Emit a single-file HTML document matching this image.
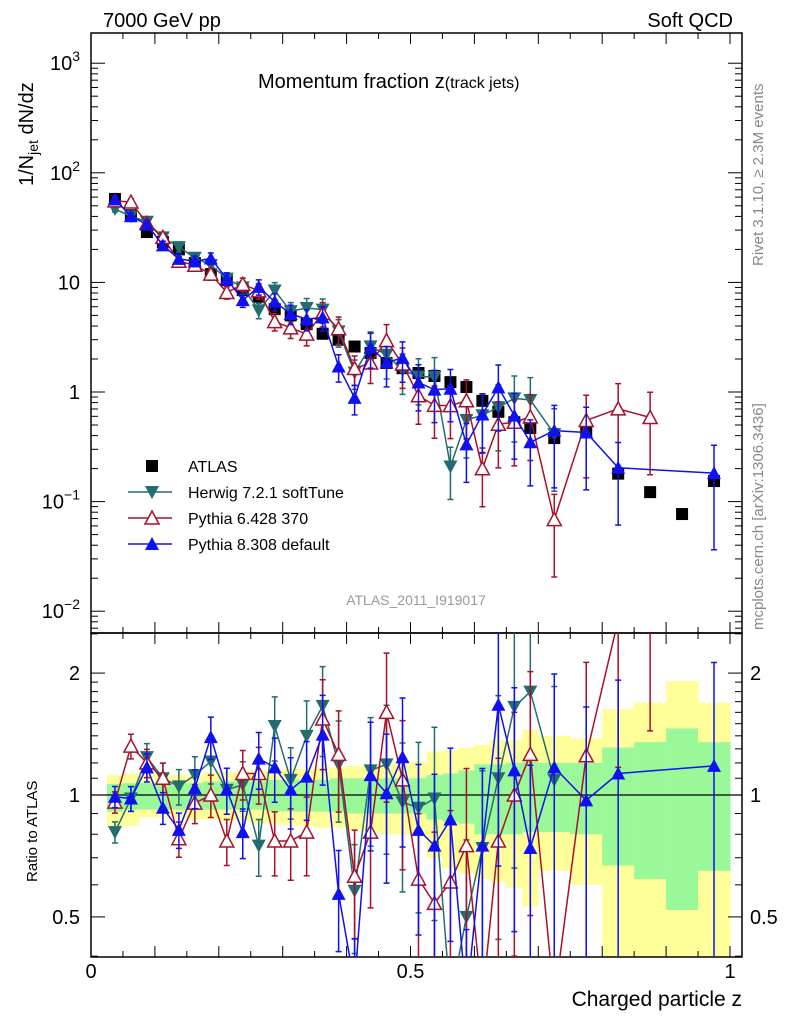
<!DOCTYPE html>
<html><head><meta charset="utf-8"><style>
html,body{margin:0;padding:0;background:#fff;width:786px;height:1024px;overflow:hidden;}
svg{display:block;font-family:"Liberation Sans",sans-serif;overflow:hidden;}
</style></head><body>
<svg id="chart" width="786" height="1024" viewBox="0 0 786 1024" xmlns="http://www.w3.org/2000/svg">
<defs>
<clipPath id="clipTop"><rect x="91" y="33" width="651" height="600"/></clipPath>
<clipPath id="clipRat"><rect x="91" y="633" width="651" height="324"/></clipPath>
</defs>
<text x="103" y="27" font-size="20">7000 GeV pp</text>
<text x="733" y="27" font-size="20" text-anchor="end">Soft QCD</text>
<text x="258" y="88" font-size="20">Momentum fraction z<tspan font-size="16">(track jets)</tspan></text>
<text transform="translate(33,186) rotate(-90)" font-size="20">1/N<tspan font-size="14" dy="5">jet</tspan><tspan dy="-5"> dN/dz</tspan></text>
<text transform="translate(37,882) rotate(-90)" font-size="15">Ratio to ATLAS</text>
<text x="742" y="1006" font-size="21" text-anchor="end">Charged particle z</text>
<text transform="translate(763,266) rotate(-90)" font-size="15" fill="#888">Rivet 3.1.10, ≥ 2.3M events</text>
<text transform="translate(763,630) rotate(-90)" font-size="15" fill="#888">mcplots.cern.ch [arXiv:1306.3436]</text>
<text x="416" y="605" font-size="14" fill="#999" text-anchor="middle">ATLAS_2011_I919017</text>
<g id="bands" clip-path="url(#clipRat)"></g>
<g id="axes"></g>
<g id="series-top" clip-path="url(#clipTop)"></g>
<g id="series-rat" clip-path="url(#clipRat)"></g>
<g id="legend"></g>
</svg>
<script>
const zCenters = [0.0375,0.0625,0.0875,0.1125,0.1375,0.1625,0.1875,0.2125,0.2375,0.2625,0.2875,0.3125,0.3375,0.3625,0.3875,0.4125,0.4375,0.4625,0.4875,0.5125,0.5375,0.5625,0.5875,0.6125,0.6375,0.6625,0.6875,0.725,0.775,0.825,0.875,0.925,0.975];
const binHalfWidths = [0.0125,0.0125,0.0125,0.0125,0.0125,0.0125,0.0125,0.0125,0.0125,0.0125,0.0125,0.0125,0.0125,0.0125,0.0125,0.0125,0.0125,0.0125,0.0125,0.0125,0.0125,0.0125,0.0125,0.0125,0.0125,0.0125,0.0125,0.025,0.025,0.025,0.025,0.025,0.025];
const atlasValues = [57.7,41,28.8,23.4,20,15,11.9,10.5,8.5,7.4,5.7,5.0,4.17,3.4,3.0,2.6,2.27,1.84,1.65,1.49,1.40,1.23,1.11,0.83,0.66,0.53,0.47,0.38,0.44,0.18,0.122,0.077,0.154];
const herwigRatio = [0.81,0.98,1.24,1.10,1.05,1.12,1.21,1.03,1.06,0.75,1.48,1.09,1.40,1.66,1.19,0.58,1.15,1.19,0.96,0.93,0.98,0.17,0.50,0.74,1.10,1.65,1.80,1.09,null,null,null,null,null];
const pythia6Ratio = [0.96,1.32,1.20,1.10,0.78,0.955,1.00,0.77,1.13,1.13,0.77,0.77,0.81,1.54,1.26,0.63,0.81,1.60,1.09,0.62,0.54,0.61,0.75,0.24,0.77,1.00,1.26,0.18,1.25,3.9,4.8,null,null];
const pythia8Ratio = [0.99,0.98,1.17,0.93,0.82,1.04,1.39,1.03,0.81,1.23,1.17,1.03,1.11,1.41,0.57,0.34,1.12,1.01,1.24,0.82,0.75,0.87,0.30,0.75,1.67,1.15,0.74,1.17,0.97,1.13,null,null,1.18];
const mcRelErr = [0.06,0.07,0.08,0.09,0.10,0.11,0.12,0.13,0.14,0.16,0.18,0.2,0.22,0.25,0.28,0.3,0.35,0.4,0.4,0.45,0.5,0.5,0.55,0.55,0.6,0.6,0.6,0.7,0.7,0.7,0.7,0.7,0.8];
const yellowHi = [1.12,1.13,1.13,1.11,1.12,1.12,1.14,1.14,1.14,1.15,1.15,1.16,1.16,1.17,1.17,1.18,1.18,1.19,1.20,1.21,1.28,1.29,1.31,1.33,1.37,1.37,1.45,1.40,1.38,1.63,1.69,1.91,1.69];
const yellowLo = [0.83,0.84,0.88,0.88,0.88,0.87,0.87,0.86,0.86,0.85,0.85,0.84,0.84,0.83,0.83,0.82,0.81,0.80,0.80,0.79,0.70,0.66,0.64,0.62,0.61,0.59,0.53,0.65,0.60,0.4,0.4,0.4,0.4];
const greenHi = [1.065,1.07,1.07,1.07,1.07,1.07,1.08,1.08,1.08,1.08,1.09,1.09,1.09,1.09,1.10,1.10,1.10,1.10,1.10,1.10,1.12,1.13,1.15,1.19,1.19,1.20,1.21,1.20,1.20,1.31,1.35,1.46,1.35];
const greenLo = [0.91,0.92,0.92,0.92,0.92,0.92,0.92,0.92,0.92,0.92,0.91,0.91,0.91,0.91,0.91,0.90,0.90,0.90,0.90,0.90,0.87,0.86,0.85,0.80,0.80,0.80,0.81,0.81,0.80,0.67,0.62,0.52,0.65];
const topTickExps = [-2,-1,0,1,2,3];
const ratioTickLabels = ["0.5","1","2"];
const xTickLabels = ["0","0.5","1"];

const NS="http://www.w3.org/2000/svg";
const X=z=>91+z*639;
const YT=v=>Math.max(20,Math.min(700,392-109.6*Math.log10(v)));
const YR=r=>Math.max(620,Math.min(1000,795-405*Math.log10(r)));
function mk(tag,attrs,parent){const e=document.createElementNS(NS,tag);for(const k in attrs)e.setAttribute(k,attrs[k]);parent.appendChild(e);return e;}
const axes=document.getElementById('axes');
const bands=document.getElementById('bands');
const sTop=document.getElementById('series-top');
const sRat=document.getElementById('series-rat');
const leg=document.getElementById('legend');

zCenters.forEach((z,i)=>{
  const x0=X(z-binHalfWidths[i]), x1=X(z+binHalfWidths[i]);
  const y=mk('rect',{x:x0,y:YR(yellowHi[i]),width:x1-x0+0.5,height:Math.min(957,YR(yellowLo[i]))-YR(yellowHi[i]),fill:'#ffff99'},bands);
  
  
  const g=mk('rect',{x:x0,y:YR(greenHi[i]),width:x1-x0+0.5,height:YR(greenLo[i])-YR(greenHi[i]),fill:'#99f999'},bands);
  
  
});

const f1=mk('rect',{x:91,y:33,width:651,height:600,fill:'none',stroke:'#000','stroke-width':1.5},axes);


const f2=mk('rect',{x:91,y:633,width:651,height:324,fill:'none',stroke:'#000','stroke-width':1.5},axes);


const one=mk('line',{x1:91,x2:742,y1:YR(1),y2:YR(1),stroke:'#000','stroke-width':1.2},axes);



for(let k=0;k<=20;k++){
  const z=k*0.05, x=X(z), len=(k%2===0)?11:6;
  [[633,-1],[957,-1],[33,1],[633,1]].forEach(([yb,d])=>{
    mk('line',{x1:x,x2:x,y1:yb,y2:yb+d*len,stroke:'#000','stroke-width':1},axes);
  });
}
xTickLabels.forEach(t=>{
  const e=mk('text',{x:X(parseFloat(t)),y:978,'font-size':20,'text-anchor':'middle'},axes);
  e.textContent=t;
  
  
});

topTickExps.forEach(p=>{
  const y=YT(Math.pow(10,p));
  mk('line',{x1:91,x2:105,y1:y,y2:y,stroke:'#000'},axes);
  mk('line',{x1:742,x2:728,y1:y,y2:y,stroke:'#000'},axes);
  const e=mk('text',{x:80,y:y+7,'font-size':20,'text-anchor':'end'},axes);
  
  
  if(p===0)e.textContent='1';
  else if(p===1)e.textContent='10';
  else{e.textContent='10';const s=mk('tspan',{dy:-9,'font-size':14},e);s.textContent=(p<0?'\u2212':'')+Math.abs(p);}
  for(let m=2;m<=9;m++){
    const ym=YT(m*Math.pow(10,p));
    if(ym<34)continue;
    mk('line',{x1:91,x2:98,y1:ym,y2:ym,stroke:'#000'},axes);
    mk('line',{x1:742,x2:735,y1:ym,y2:ym,stroke:'#000'},axes);
  }
});
[7,8,9].forEach(m=>{const ym=YT(m/1000);mk('line',{x1:91,x2:98,y1:ym,y2:ym,stroke:'#000'},axes);mk('line',{x1:742,x2:735,y1:ym,y2:ym,stroke:'#000'},axes);});

[0.4,0.5,0.6,0.7,0.8,0.9,1,1.1,1.2,1.3,1.4,1.5,1.6,1.7,1.8,1.9,2,2.5].forEach(r=>{
  const y=YR(r), len=(r===0.5||r===1||r===2)?14:7;
  mk('line',{x1:91,x2:91+len,y1:y,y2:y,stroke:'#000'},axes);
  mk('line',{x1:742,x2:742-len,y1:y,y2:y,stroke:'#000'},axes);
});
ratioTickLabels.forEach(t=>{
  const y=YR(parseFloat(t));
  const a=mk('text',{x:80,y:y+7,'font-size':20,'text-anchor':'end'},axes);a.textContent=t;
  
  
  const b=mk('text',{x:750,y:y+7,'font-size':20},axes);b.textContent=t;
  
  
});

function marker(type,x,y,color,parent){
  let e;
  if(type==='square') e=mk('rect',{x:x-6,y:y-6,width:12,height:12,fill:'#000'},parent);
  else if(type==='down') e=mk('polygon',{points:`${x-7},${y-6} ${x+7},${y-6} ${x},${y+7}`,fill:color},parent);
  else if(type==='up') e=mk('polygon',{points:`${x-7},${y+6} ${x+7},${y+6} ${x},${y-7}`,fill:color},parent);
  else e=mk('polygon',{points:`${x-7},${y+6} ${x+7},${y+6} ${x},${y-7}`,fill:'#fff',stroke:color,'stroke-width':1.5},parent);
  return e;
}

const series=[
  {name:'herwig',ratio:herwigRatio,color:'#236c70',m:'down'},
  {name:'pythia6',ratio:pythia6Ratio,color:'#a8102c',m:'open'},
  {name:'pythia8',ratio:pythia8Ratio,color:'#1010f0',m:'up'}
];

zCenters.forEach((z,i)=>{
  const e=marker('square',X(z),YT(atlasValues[i]),'#000',sTop);
  
  
});

series.forEach(s=>{
  const ptsT=[],ptsR=[];
  zCenters.forEach((z,i)=>{
    const r=s.ratio[i]; if(r===null)return;
    const v=atlasValues[i]*r, e=mcRelErr[i];
    const x=X(z);
    ptsT.push([x,YT(v),YT(v*(1+e)),Math.min(YT(v*(1-e)),640)]);
    ptsR.push([x,YR(r),YR(r*(1+e)),Math.min(YR(r*(1-e)),960)]);
  });
  [[ptsT,sTop,'top'],[ptsR,sRat,'ratio']].forEach(([pts,par,tag])=>{
    const g=mk('g',{},par);
    
    
    const l=mk('polyline',{points:pts.map(p=>p[0]+','+p[1]).join(' '),fill:'none',stroke:s.color,'stroke-width':1.5},g);
    
    
    pts.forEach(p=>{
      const eb=mk('path',{d:`M${p[0]},${p[2]}V${p[3]}M${p[0]-3},${p[2]}h6M${p[0]-3},${p[3]}h6`,stroke:s.color,'stroke-width':1.5,fill:'none'},g);
      
      
    });
    pts.forEach(p=>{
      const e=marker(s.m,p[0],p[1],s.color,g);
      
      
    });
  });
});

const legendItems=[['ATLAS','square','#000'],['Herwig 7.2.1 softTune','down','#236c70'],['Pythia 6.428 370','open','#a8102c'],['Pythia 8.308 default','up','#1010f0']];
legendItems.forEach((it,k)=>{
  const y=466+k*26;
  const g=mk('g',{},leg);
  
  
  if(k>0) mk('line',{x1:128,x2:172,y1:y,y2:y,stroke:it[2],'stroke-width':1.5},g);
  marker(it[1],152,y,it[2],g);
  const t=mk('text',{x:188,y:y+6,'font-size':16},g);t.textContent=it[0];
});
</script>
</body></html>
